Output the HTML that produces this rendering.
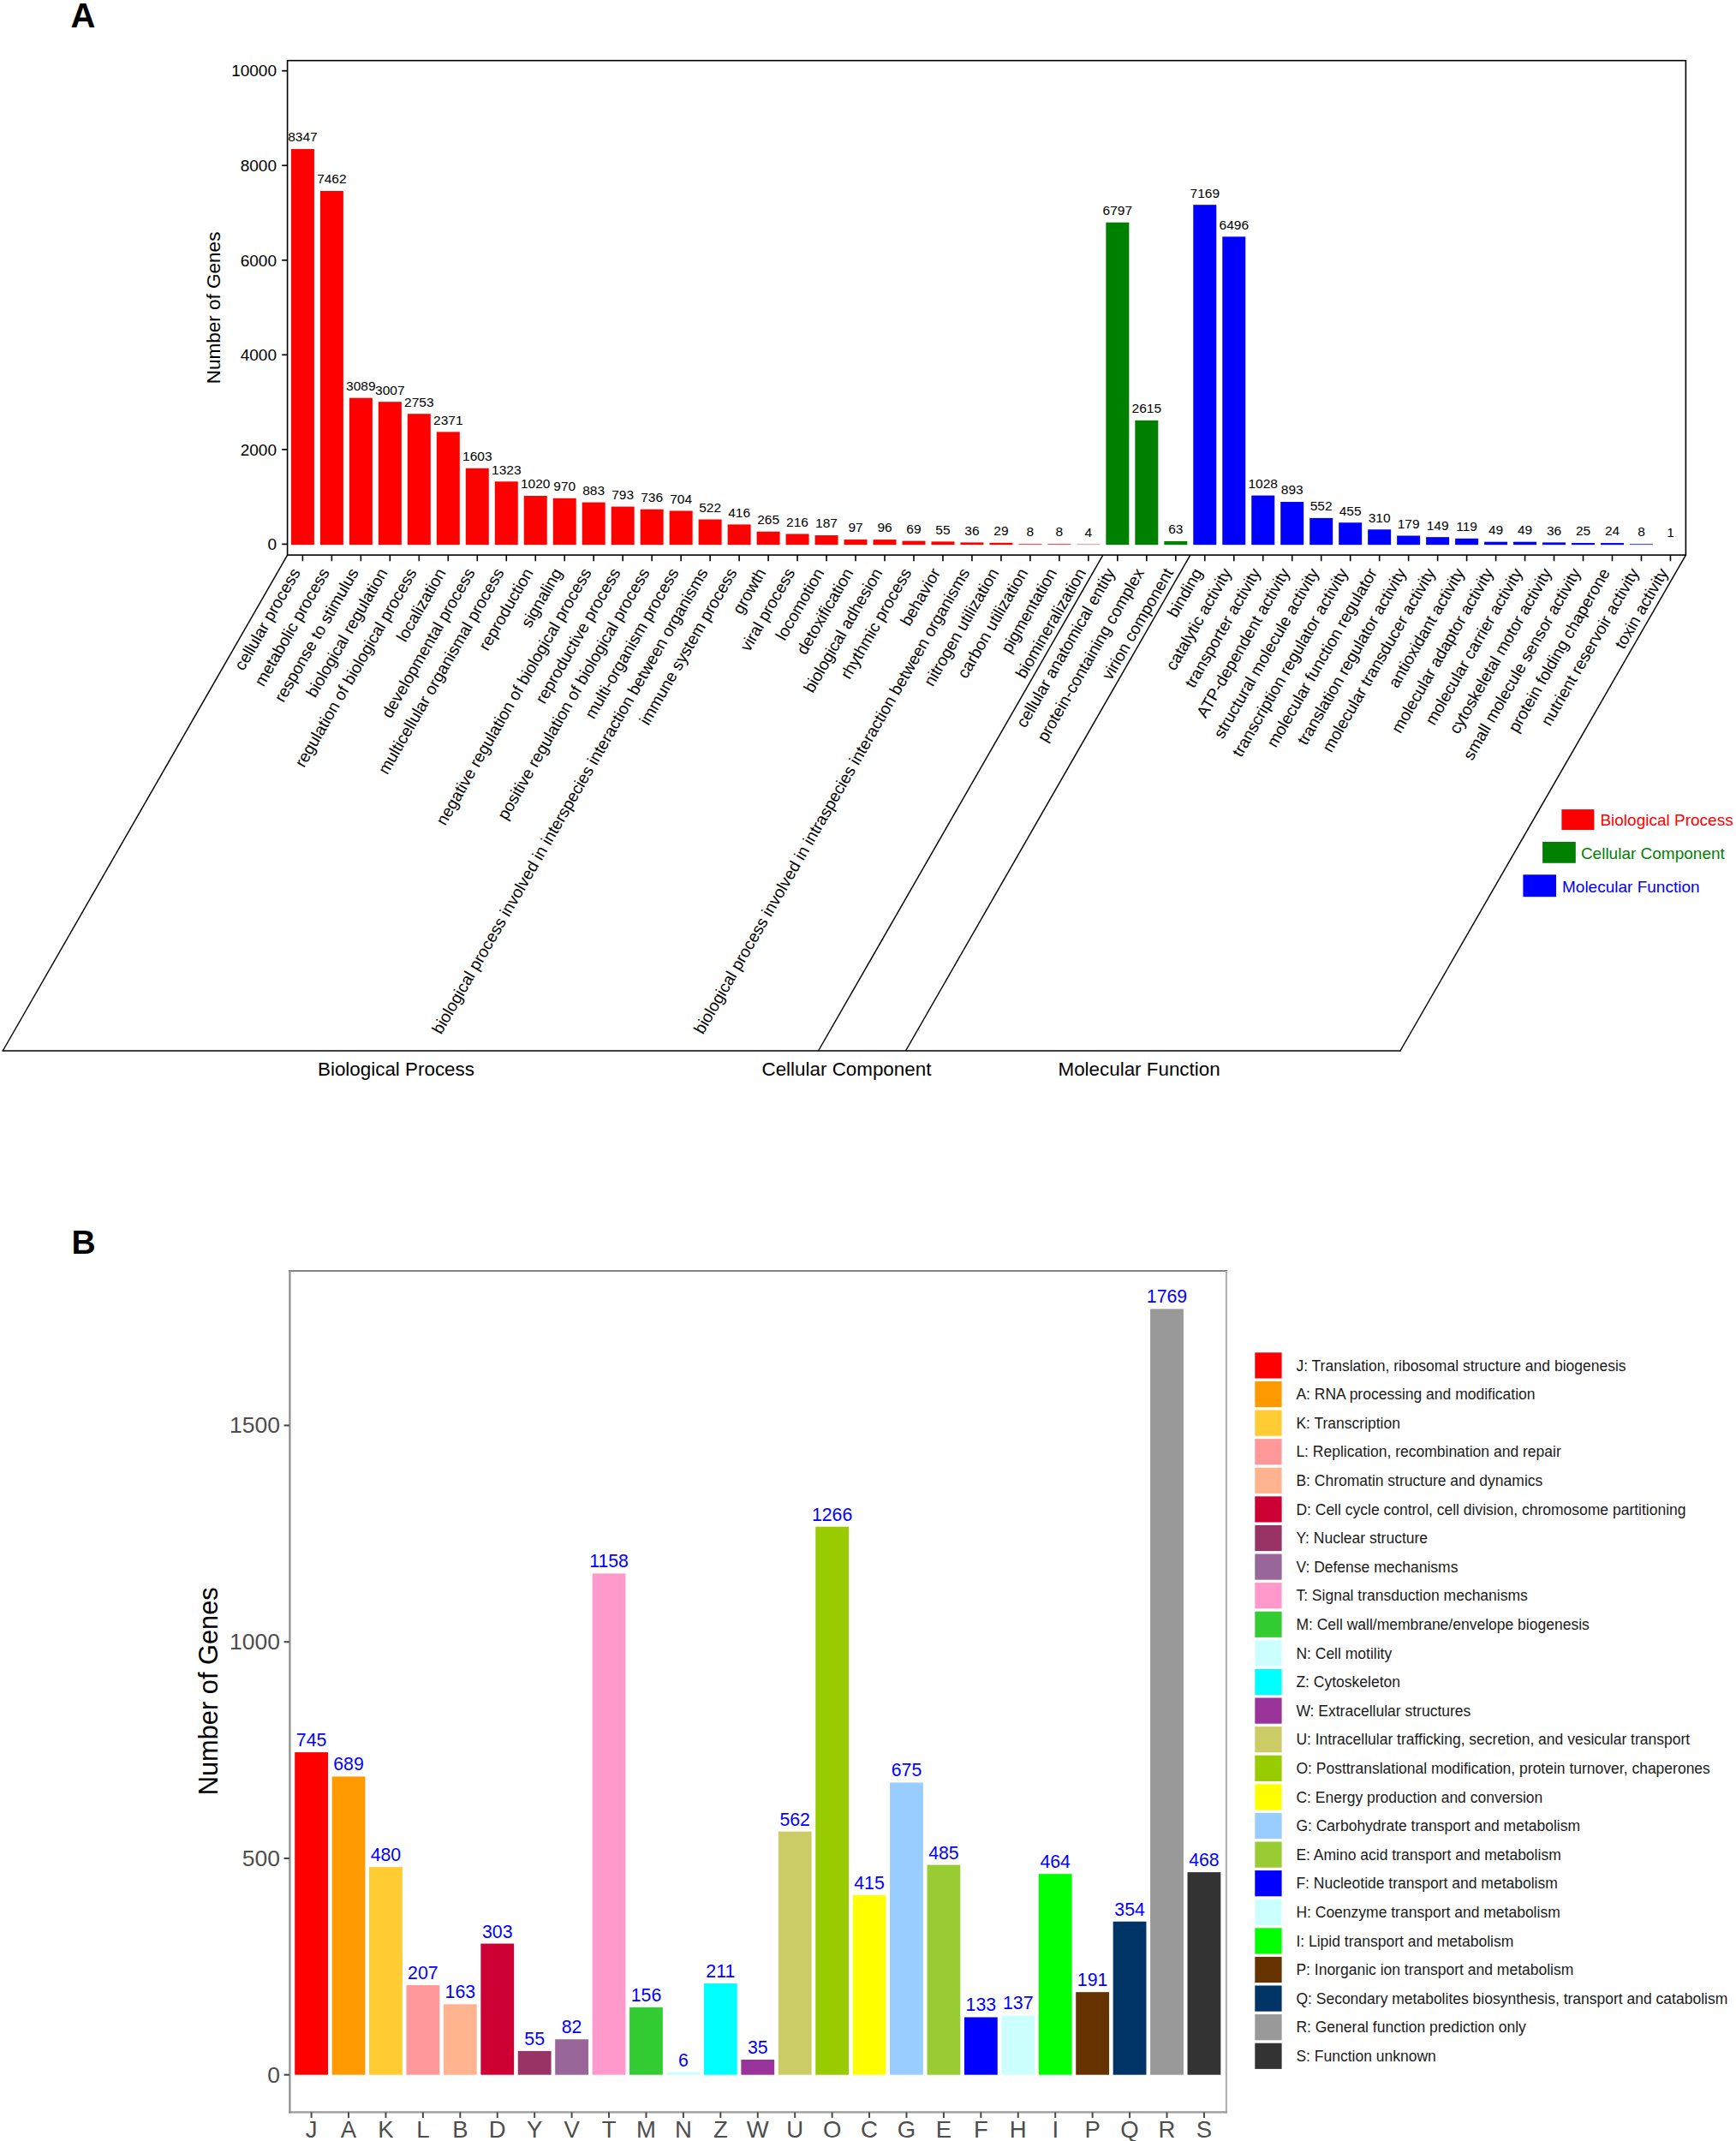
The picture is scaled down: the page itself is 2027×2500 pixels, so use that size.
<!DOCTYPE html>
<html lang="en">
<head>
<meta charset="utf-8">
<title>GO and COG functional classification</title>
<style>
html,body{margin:0;padding:0;background:#fff;}
body{width:2027px;height:2500px;overflow:hidden;}
svg{display:block;font-family:'Liberation Sans', Arial, Helvetica, sans-serif;}
</style>
</head>
<body>
<svg width="2027" height="2500" viewBox="0 0 2027 2500">
<rect x="0" y="0" width="2027" height="2500" fill="#ffffff"/>
<g id="panelA">
<g id="a-bars">
<rect x="339.90" y="174.06" width="27.00" height="462.14" fill="#ff0000"/>
<rect x="373.88" y="222.98" width="27.00" height="413.22" fill="#ff0000"/>
<rect x="407.86" y="464.67" width="27.00" height="171.53" fill="#ff0000"/>
<rect x="441.84" y="469.20" width="27.00" height="167.00" fill="#ff0000"/>
<rect x="475.82" y="483.24" width="27.00" height="152.96" fill="#ff0000"/>
<rect x="509.80" y="504.35" width="27.00" height="131.85" fill="#ff0000"/>
<rect x="543.78" y="546.80" width="27.00" height="89.40" fill="#ff0000"/>
<rect x="577.76" y="562.28" width="27.00" height="73.92" fill="#ff0000"/>
<rect x="611.74" y="579.02" width="27.00" height="57.18" fill="#ff0000"/>
<rect x="645.72" y="581.79" width="27.00" height="54.41" fill="#ff0000"/>
<rect x="679.70" y="586.60" width="27.00" height="49.60" fill="#ff0000"/>
<rect x="713.68" y="591.57" width="27.00" height="44.63" fill="#ff0000"/>
<rect x="747.66" y="594.72" width="27.00" height="41.48" fill="#ff0000"/>
<rect x="781.64" y="596.49" width="27.00" height="39.71" fill="#ff0000"/>
<rect x="815.62" y="606.55" width="27.00" height="29.65" fill="#ff0000"/>
<rect x="849.60" y="612.41" width="27.00" height="23.79" fill="#ff0000"/>
<rect x="883.58" y="620.75" width="27.00" height="15.45" fill="#ff0000"/>
<rect x="917.56" y="623.46" width="27.00" height="12.74" fill="#ff0000"/>
<rect x="951.54" y="625.06" width="27.00" height="11.14" fill="#ff0000"/>
<rect x="985.52" y="630.04" width="27.00" height="6.16" fill="#ff0000"/>
<rect x="1019.50" y="630.09" width="27.00" height="6.11" fill="#ff0000"/>
<rect x="1053.48" y="631.59" width="27.00" height="4.61" fill="#ff0000"/>
<rect x="1087.46" y="632.36" width="27.00" height="3.84" fill="#ff0000"/>
<rect x="1121.44" y="633.41" width="27.00" height="2.79" fill="#ff0000"/>
<rect x="1155.42" y="633.80" width="27.00" height="2.40" fill="#ff0000"/>
<rect x="1189.40" y="634.96" width="27.00" height="1.24" fill="#ff0000" fill-opacity="0.69"/>
<rect x="1223.38" y="634.96" width="27.00" height="1.24" fill="#ff0000" fill-opacity="0.69"/>
<rect x="1257.36" y="635.18" width="27.00" height="1.02" fill="#ff0000" fill-opacity="0.45"/>
<rect x="1291.34" y="259.73" width="27.00" height="376.47" fill="#008000"/>
<rect x="1325.32" y="490.87" width="27.00" height="145.33" fill="#008000"/>
<rect x="1359.30" y="631.92" width="27.00" height="4.28" fill="#008000"/>
<rect x="1393.28" y="239.17" width="27.00" height="397.03" fill="#0000ff"/>
<rect x="1427.26" y="276.37" width="27.00" height="359.83" fill="#0000ff"/>
<rect x="1461.24" y="578.58" width="27.00" height="57.62" fill="#0000ff"/>
<rect x="1495.22" y="586.04" width="27.00" height="50.16" fill="#0000ff"/>
<rect x="1529.20" y="604.89" width="27.00" height="31.31" fill="#0000ff"/>
<rect x="1563.18" y="610.25" width="27.00" height="25.95" fill="#0000ff"/>
<rect x="1597.16" y="618.27" width="27.00" height="17.93" fill="#0000ff"/>
<rect x="1631.14" y="625.51" width="27.00" height="10.69" fill="#0000ff"/>
<rect x="1665.12" y="627.16" width="27.00" height="9.04" fill="#0000ff"/>
<rect x="1699.10" y="628.82" width="27.00" height="7.38" fill="#0000ff"/>
<rect x="1733.08" y="632.69" width="27.00" height="3.51" fill="#0000ff"/>
<rect x="1767.06" y="632.69" width="27.00" height="3.51" fill="#0000ff"/>
<rect x="1801.04" y="633.41" width="27.00" height="2.79" fill="#0000ff"/>
<rect x="1835.02" y="634.02" width="27.00" height="2.18" fill="#0000ff"/>
<rect x="1869.00" y="634.07" width="27.00" height="2.13" fill="#0000ff"/>
<rect x="1902.98" y="634.96" width="27.00" height="1.24" fill="#0000ff" fill-opacity="0.69"/>
</g>
<rect x="335.60" y="70.70" width="1632.80" height="577.40" fill="none" stroke="#000" stroke-width="1.6"/>
<g id="a-yaxis" font-size="19.00" text-anchor="end" fill="#000">
<line x1="329.20" y1="635.40" x2="335.60" y2="635.40" stroke="#000" stroke-width="1.7"/>
<text x="323.00" y="642.14">0</text>
<line x1="329.20" y1="524.86" x2="335.60" y2="524.86" stroke="#000" stroke-width="1.7"/>
<text x="323.00" y="531.61">2000</text>
<line x1="329.20" y1="414.32" x2="335.60" y2="414.32" stroke="#000" stroke-width="1.7"/>
<text x="323.00" y="421.06">4000</text>
<line x1="329.20" y1="303.78" x2="335.60" y2="303.78" stroke="#000" stroke-width="1.7"/>
<text x="323.00" y="310.53">6000</text>
<line x1="329.20" y1="193.24" x2="335.60" y2="193.24" stroke="#000" stroke-width="1.7"/>
<text x="323.00" y="199.99">8000</text>
<line x1="329.20" y1="82.70" x2="335.60" y2="82.70" stroke="#000" stroke-width="1.7"/>
<text x="323.00" y="89.45">10000</text>
</g>
<text transform="translate(257.00,359.40) rotate(-90)" text-anchor="middle" font-size="22.50">Number of Genes</text>
<g id="a-xticks" stroke="#000" stroke-width="1.6">
<line x1="353.40" y1="648.10" x2="353.40" y2="655.30"/>
<line x1="387.38" y1="648.10" x2="387.38" y2="655.30"/>
<line x1="421.36" y1="648.10" x2="421.36" y2="655.30"/>
<line x1="455.34" y1="648.10" x2="455.34" y2="655.30"/>
<line x1="489.32" y1="648.10" x2="489.32" y2="655.30"/>
<line x1="523.30" y1="648.10" x2="523.30" y2="655.30"/>
<line x1="557.28" y1="648.10" x2="557.28" y2="655.30"/>
<line x1="591.26" y1="648.10" x2="591.26" y2="655.30"/>
<line x1="625.24" y1="648.10" x2="625.24" y2="655.30"/>
<line x1="659.22" y1="648.10" x2="659.22" y2="655.30"/>
<line x1="693.20" y1="648.10" x2="693.20" y2="655.30"/>
<line x1="727.18" y1="648.10" x2="727.18" y2="655.30"/>
<line x1="761.16" y1="648.10" x2="761.16" y2="655.30"/>
<line x1="795.14" y1="648.10" x2="795.14" y2="655.30"/>
<line x1="829.12" y1="648.10" x2="829.12" y2="655.30"/>
<line x1="863.10" y1="648.10" x2="863.10" y2="655.30"/>
<line x1="897.08" y1="648.10" x2="897.08" y2="655.30"/>
<line x1="931.06" y1="648.10" x2="931.06" y2="655.30"/>
<line x1="965.04" y1="648.10" x2="965.04" y2="655.30"/>
<line x1="999.02" y1="648.10" x2="999.02" y2="655.30"/>
<line x1="1033.00" y1="648.10" x2="1033.00" y2="655.30"/>
<line x1="1066.98" y1="648.10" x2="1066.98" y2="655.30"/>
<line x1="1100.96" y1="648.10" x2="1100.96" y2="655.30"/>
<line x1="1134.94" y1="648.10" x2="1134.94" y2="655.30"/>
<line x1="1168.92" y1="648.10" x2="1168.92" y2="655.30"/>
<line x1="1202.90" y1="648.10" x2="1202.90" y2="655.30"/>
<line x1="1236.88" y1="648.10" x2="1236.88" y2="655.30"/>
<line x1="1270.86" y1="648.10" x2="1270.86" y2="655.30"/>
<line x1="1304.84" y1="648.10" x2="1304.84" y2="655.30"/>
<line x1="1338.82" y1="648.10" x2="1338.82" y2="655.30"/>
<line x1="1372.80" y1="648.10" x2="1372.80" y2="655.30"/>
<line x1="1406.78" y1="648.10" x2="1406.78" y2="655.30"/>
<line x1="1440.76" y1="648.10" x2="1440.76" y2="655.30"/>
<line x1="1474.74" y1="648.10" x2="1474.74" y2="655.30"/>
<line x1="1508.72" y1="648.10" x2="1508.72" y2="655.30"/>
<line x1="1542.70" y1="648.10" x2="1542.70" y2="655.30"/>
<line x1="1576.68" y1="648.10" x2="1576.68" y2="655.30"/>
<line x1="1610.66" y1="648.10" x2="1610.66" y2="655.30"/>
<line x1="1644.64" y1="648.10" x2="1644.64" y2="655.30"/>
<line x1="1678.62" y1="648.10" x2="1678.62" y2="655.30"/>
<line x1="1712.60" y1="648.10" x2="1712.60" y2="655.30"/>
<line x1="1746.58" y1="648.10" x2="1746.58" y2="655.30"/>
<line x1="1780.56" y1="648.10" x2="1780.56" y2="655.30"/>
<line x1="1814.54" y1="648.10" x2="1814.54" y2="655.30"/>
<line x1="1848.52" y1="648.10" x2="1848.52" y2="655.30"/>
<line x1="1882.50" y1="648.10" x2="1882.50" y2="655.30"/>
<line x1="1916.48" y1="648.10" x2="1916.48" y2="655.30"/>
<line x1="1950.46" y1="648.10" x2="1950.46" y2="655.30"/>
</g>
<g id="a-vals" font-size="15.50" text-anchor="middle" fill="#000">
<text x="353.40" y="165.46">8347</text>
<text x="387.38" y="214.38">7462</text>
<text x="421.36" y="456.07">3089</text>
<text x="455.34" y="460.60">3007</text>
<text x="489.32" y="474.64">2753</text>
<text x="523.30" y="495.75">2371</text>
<text x="557.28" y="538.20">1603</text>
<text x="591.26" y="553.68">1323</text>
<text x="625.24" y="570.42">1020</text>
<text x="659.22" y="573.19">970</text>
<text x="693.20" y="578.00">883</text>
<text x="727.18" y="582.97">793</text>
<text x="761.16" y="586.12">736</text>
<text x="795.14" y="587.89">704</text>
<text x="829.12" y="597.95">522</text>
<text x="863.10" y="603.81">416</text>
<text x="897.08" y="612.15">265</text>
<text x="931.06" y="614.86">216</text>
<text x="965.04" y="616.46">187</text>
<text x="999.02" y="621.44">97</text>
<text x="1033.00" y="621.49">96</text>
<text x="1066.98" y="622.99">69</text>
<text x="1100.96" y="623.76">55</text>
<text x="1134.94" y="624.81">36</text>
<text x="1168.92" y="625.20">29</text>
<text x="1202.90" y="626.36">8</text>
<text x="1236.88" y="626.36">8</text>
<text x="1270.86" y="626.58">4</text>
<text x="1304.84" y="251.13">6797</text>
<text x="1338.82" y="482.27">2615</text>
<text x="1372.80" y="623.32">63</text>
<text x="1406.78" y="230.57">7169</text>
<text x="1440.76" y="267.77">6496</text>
<text x="1474.74" y="569.98">1028</text>
<text x="1508.72" y="577.44">893</text>
<text x="1542.70" y="596.29">552</text>
<text x="1576.68" y="601.65">455</text>
<text x="1610.66" y="609.67">310</text>
<text x="1644.64" y="616.91">179</text>
<text x="1678.62" y="618.56">149</text>
<text x="1712.60" y="620.22">119</text>
<text x="1746.58" y="624.09">49</text>
<text x="1780.56" y="624.09">49</text>
<text x="1814.54" y="624.81">36</text>
<text x="1848.52" y="625.42">25</text>
<text x="1882.50" y="625.47">24</text>
<text x="1916.48" y="626.36">8</text>
<text x="1950.46" y="626.74">1</text>
</g>
<g id="a-labels" font-size="19.25" text-anchor="end" fill="#000">
<text transform="translate(345.40,665.00) rotate(-60)" dy="0.35em">cellular process</text>
<text transform="translate(379.38,665.00) rotate(-60)" dy="0.35em">metabolic process</text>
<text transform="translate(413.36,665.00) rotate(-60)" dy="0.35em">response to stimulus</text>
<text transform="translate(447.34,665.00) rotate(-60)" dy="0.35em">biological regulation</text>
<text transform="translate(481.32,665.00) rotate(-60)" dy="0.35em">regulation of biological process</text>
<text transform="translate(515.30,665.00) rotate(-60)" dy="0.35em">localization</text>
<text transform="translate(549.28,665.00) rotate(-60)" dy="0.35em">developmental process</text>
<text transform="translate(583.26,665.00) rotate(-60)" dy="0.35em">multicellular organismal process</text>
<text transform="translate(617.24,665.00) rotate(-60)" dy="0.35em">reproduction</text>
<text transform="translate(651.22,665.00) rotate(-60)" dy="0.35em">signaling</text>
<text transform="translate(685.20,665.00) rotate(-60)" dy="0.35em">negative regulation of biological process</text>
<text transform="translate(719.18,665.00) rotate(-60)" dy="0.35em">reproductive process</text>
<text transform="translate(753.16,665.00) rotate(-60)" dy="0.35em">positive regulation of biological process</text>
<text transform="translate(787.14,665.00) rotate(-60)" dy="0.35em">multi-organism process</text>
<text transform="translate(821.12,665.00) rotate(-60)" dy="0.35em">biological process involved in interspecies interaction between organisms</text>
<text transform="translate(855.10,665.00) rotate(-60)" dy="0.35em">immune system process</text>
<text transform="translate(889.08,665.00) rotate(-60)" dy="0.35em">growth</text>
<text transform="translate(923.06,665.00) rotate(-60)" dy="0.35em">viral process</text>
<text transform="translate(957.04,665.00) rotate(-60)" dy="0.35em">locomotion</text>
<text transform="translate(991.02,665.00) rotate(-60)" dy="0.35em">detoxification</text>
<text transform="translate(1025.00,665.00) rotate(-60)" dy="0.35em">biological adhesion</text>
<text transform="translate(1058.98,665.00) rotate(-60)" dy="0.35em">rhythmic process</text>
<text transform="translate(1092.96,665.00) rotate(-60)" dy="0.35em">behavior</text>
<text transform="translate(1126.94,665.00) rotate(-60)" dy="0.35em">biological process involved in intraspecies interaction between organisms</text>
<text transform="translate(1160.92,665.00) rotate(-60)" dy="0.35em">nitrogen utilization</text>
<text transform="translate(1194.90,665.00) rotate(-60)" dy="0.35em">carbon utilization</text>
<text transform="translate(1228.88,665.00) rotate(-60)" dy="0.35em">pigmentation</text>
<text transform="translate(1262.86,665.00) rotate(-60)" dy="0.35em">biomineralization</text>
<text transform="translate(1296.84,665.00) rotate(-60)" dy="0.35em">cellular anatomical entity</text>
<text transform="translate(1330.82,665.00) rotate(-60)" dy="0.35em">protein-containing complex</text>
<text transform="translate(1364.80,665.00) rotate(-60)" dy="0.35em">virion component</text>
<text transform="translate(1398.78,665.00) rotate(-60)" dy="0.35em">binding</text>
<text transform="translate(1432.76,665.00) rotate(-60)" dy="0.35em">catalytic activity</text>
<text transform="translate(1466.74,665.00) rotate(-60)" dy="0.35em">transporter activity</text>
<text transform="translate(1500.72,665.00) rotate(-60)" dy="0.35em">ATP-dependent activity</text>
<text transform="translate(1534.70,665.00) rotate(-60)" dy="0.35em">structural molecule activity</text>
<text transform="translate(1568.68,665.00) rotate(-60)" dy="0.35em">transcription regulator activity</text>
<text transform="translate(1602.66,665.00) rotate(-60)" dy="0.35em">molecular function regulator</text>
<text transform="translate(1636.64,665.00) rotate(-60)" dy="0.35em">translation regulator activity</text>
<text transform="translate(1670.62,665.00) rotate(-60)" dy="0.35em">molecular transducer activity</text>
<text transform="translate(1704.60,665.00) rotate(-60)" dy="0.35em">antioxidant activity</text>
<text transform="translate(1738.58,665.00) rotate(-60)" dy="0.35em">molecular adaptor activity</text>
<text transform="translate(1772.56,665.00) rotate(-60)" dy="0.35em">molecular carrier activity</text>
<text transform="translate(1806.54,665.00) rotate(-60)" dy="0.35em">cytoskeletal motor activity</text>
<text transform="translate(1840.52,665.00) rotate(-60)" dy="0.35em">small molecule sensor activity</text>
<text transform="translate(1874.50,665.00) rotate(-60)" dy="0.35em">protein folding chaperone</text>
<text transform="translate(1908.48,665.00) rotate(-60)" dy="0.35em">nutrient reservoir activity</text>
<text transform="translate(1942.46,665.00) rotate(-60)" dy="0.35em">toxin activity</text>
</g>
<g id="a-trap" stroke="#000" stroke-width="1.45" fill="none">
<line x1="335.60" y1="648.10" x2="3.30" y2="1227.00"/>
<line x1="2.50" y1="1227.00" x2="1635.80" y2="1227.00"/>
<line x1="1968.40" y1="648.10" x2="1635.00" y2="1227.00"/>
<line x1="1287.85" y1="648.10" x2="955.55" y2="1227.00"/>
<line x1="1389.79" y1="648.10" x2="1057.49" y2="1227.00"/>
</g>
<g id="a-cats" font-size="22.40" fill="#000">
<text x="371" y="1256.2">Biological Process</text>
<text x="889.5" y="1256.2">Cellular Component</text>
<text x="1235.5" y="1256.2">Molecular Function</text>
</g>
<g id="a-legend" font-size="19">
<rect x="1823.4" y="945.1" width="38" height="23.9" fill="#ff0000"/><text x="1868.4" y="964.2" fill="#ff0000">Biological Process</text>
<rect x="1801.1" y="983.0" width="38.7" height="24.8" fill="#008000"/><text x="1845.9" y="1003.3" fill="#008000">Cellular Component</text>
<rect x="1778.4" y="1021.3" width="38.6" height="25.9" fill="#0000ff"/><text x="1824.0" y="1042.1" fill="#0000ff">Molecular Function</text>
</g>
<text x="82.4" y="31.9" font-size="40" font-weight="bold">A</text>
</g>
<g id="panelB">
<g id="b-bars">
<rect x="344.20" y="2046.10" width="38.80" height="376.60" fill="#ff0000"/>
<rect x="387.63" y="2074.41" width="38.80" height="348.29" fill="#ff9900"/>
<rect x="431.06" y="2180.06" width="38.80" height="242.64" fill="#ffcc33"/>
<rect x="474.49" y="2318.06" width="38.80" height="104.64" fill="#ff9999"/>
<rect x="517.92" y="2340.30" width="38.80" height="82.40" fill="#ffb38f"/>
<rect x="561.35" y="2269.53" width="38.80" height="153.17" fill="#cc0033"/>
<rect x="604.78" y="2394.90" width="38.80" height="27.80" fill="#993366"/>
<rect x="648.21" y="2381.25" width="38.80" height="41.45" fill="#996699"/>
<rect x="691.64" y="1837.33" width="38.80" height="585.37" fill="#ff99cc"/>
<rect x="735.07" y="2343.84" width="38.80" height="78.86" fill="#33cc33"/>
<rect x="778.50" y="2419.67" width="38.80" height="3.03" fill="#ccffff"/>
<rect x="821.93" y="2316.04" width="38.80" height="106.66" fill="#00ffff"/>
<rect x="865.36" y="2405.01" width="38.80" height="17.69" fill="#993399"/>
<rect x="908.79" y="2138.61" width="38.80" height="284.09" fill="#cccc66"/>
<rect x="952.22" y="1782.74" width="38.80" height="639.96" fill="#99cc00"/>
<rect x="995.65" y="2212.92" width="38.80" height="209.78" fill="#ffff00"/>
<rect x="1039.08" y="2081.49" width="38.80" height="341.21" fill="#99ccff"/>
<rect x="1082.51" y="2177.53" width="38.80" height="245.17" fill="#99cc33"/>
<rect x="1125.94" y="2355.47" width="38.80" height="67.23" fill="#0000ff"/>
<rect x="1169.37" y="2353.45" width="38.80" height="69.25" fill="#ccffff"/>
<rect x="1212.80" y="2188.15" width="38.80" height="234.55" fill="#00ff00"/>
<rect x="1256.23" y="2326.15" width="38.80" height="96.55" fill="#663300"/>
<rect x="1299.66" y="2243.75" width="38.80" height="178.95" fill="#003366"/>
<rect x="1343.09" y="1528.47" width="38.80" height="894.23" fill="#999999"/>
<rect x="1386.52" y="2186.13" width="38.80" height="236.57" fill="#333333"/>
</g>
<g id="b-frame" fill="none" stroke-width="2.2" stroke-linecap="square">
<line x1="338.40" y1="1484.00" x2="1431.90" y2="1484.00" stroke="#838383"/>
<line x1="1431.90" y1="1485.20" x2="1431.90" y2="2466.40" stroke="#b2b2b2"/>
<line x1="338.40" y1="2466.40" x2="1431.90" y2="2466.40" stroke="#9a9a9a"/>
<line x1="338.40" y1="1484.00" x2="338.40" y2="2466.40" stroke="#8c8c8c"/>
</g>
<g id="b-yaxis" font-size="26.50" text-anchor="end" fill="#4d4d4d">
<line x1="331.60" y1="2422.70" x2="337.90" y2="2422.70" stroke="#484848" stroke-width="2.1"/>
<text x="326.90" y="2431.71">0</text>
<line x1="331.60" y1="2169.95" x2="337.90" y2="2169.95" stroke="#484848" stroke-width="2.1"/>
<text x="326.90" y="2178.96">500</text>
<line x1="331.60" y1="1917.20" x2="337.90" y2="1917.20" stroke="#484848" stroke-width="2.1"/>
<text x="326.90" y="1926.21">1000</text>
<line x1="331.60" y1="1664.45" x2="337.90" y2="1664.45" stroke="#484848" stroke-width="2.1"/>
<text x="326.90" y="1673.46">1500</text>
</g>
<text transform="translate(254.40,1974.80) rotate(-90)" text-anchor="middle" font-size="30.80">Number of Genes</text>
<g id="b-xaxis" font-size="27.50" text-anchor="middle" fill="#4d4d4d">
<line x1="363.60" y1="2466.40" x2="363.60" y2="2473.00" stroke="#4a4a4a" stroke-width="2"/>
<text x="363.60" y="2496.30">J</text>
<line x1="407.03" y1="2466.40" x2="407.03" y2="2473.00" stroke="#4a4a4a" stroke-width="2"/>
<text x="407.03" y="2496.30">A</text>
<line x1="450.46" y1="2466.40" x2="450.46" y2="2473.00" stroke="#4a4a4a" stroke-width="2"/>
<text x="450.46" y="2496.30">K</text>
<line x1="493.89" y1="2466.40" x2="493.89" y2="2473.00" stroke="#4a4a4a" stroke-width="2"/>
<text x="493.89" y="2496.30">L</text>
<line x1="537.32" y1="2466.40" x2="537.32" y2="2473.00" stroke="#4a4a4a" stroke-width="2"/>
<text x="537.32" y="2496.30">B</text>
<line x1="580.75" y1="2466.40" x2="580.75" y2="2473.00" stroke="#4a4a4a" stroke-width="2"/>
<text x="580.75" y="2496.30">D</text>
<line x1="624.18" y1="2466.40" x2="624.18" y2="2473.00" stroke="#4a4a4a" stroke-width="2"/>
<text x="624.18" y="2496.30">Y</text>
<line x1="667.61" y1="2466.40" x2="667.61" y2="2473.00" stroke="#4a4a4a" stroke-width="2"/>
<text x="667.61" y="2496.30">V</text>
<line x1="711.04" y1="2466.40" x2="711.04" y2="2473.00" stroke="#4a4a4a" stroke-width="2"/>
<text x="711.04" y="2496.30">T</text>
<line x1="754.47" y1="2466.40" x2="754.47" y2="2473.00" stroke="#4a4a4a" stroke-width="2"/>
<text x="754.47" y="2496.30">M</text>
<line x1="797.90" y1="2466.40" x2="797.90" y2="2473.00" stroke="#4a4a4a" stroke-width="2"/>
<text x="797.90" y="2496.30">N</text>
<line x1="841.33" y1="2466.40" x2="841.33" y2="2473.00" stroke="#4a4a4a" stroke-width="2"/>
<text x="841.33" y="2496.30">Z</text>
<line x1="884.76" y1="2466.40" x2="884.76" y2="2473.00" stroke="#4a4a4a" stroke-width="2"/>
<text x="884.76" y="2496.30">W</text>
<line x1="928.19" y1="2466.40" x2="928.19" y2="2473.00" stroke="#4a4a4a" stroke-width="2"/>
<text x="928.19" y="2496.30">U</text>
<line x1="971.62" y1="2466.40" x2="971.62" y2="2473.00" stroke="#4a4a4a" stroke-width="2"/>
<text x="971.62" y="2496.30">O</text>
<line x1="1015.05" y1="2466.40" x2="1015.05" y2="2473.00" stroke="#4a4a4a" stroke-width="2"/>
<text x="1015.05" y="2496.30">C</text>
<line x1="1058.48" y1="2466.40" x2="1058.48" y2="2473.00" stroke="#4a4a4a" stroke-width="2"/>
<text x="1058.48" y="2496.30">G</text>
<line x1="1101.91" y1="2466.40" x2="1101.91" y2="2473.00" stroke="#4a4a4a" stroke-width="2"/>
<text x="1101.91" y="2496.30">E</text>
<line x1="1145.34" y1="2466.40" x2="1145.34" y2="2473.00" stroke="#4a4a4a" stroke-width="2"/>
<text x="1145.34" y="2496.30">F</text>
<line x1="1188.77" y1="2466.40" x2="1188.77" y2="2473.00" stroke="#4a4a4a" stroke-width="2"/>
<text x="1188.77" y="2496.30">H</text>
<line x1="1232.20" y1="2466.40" x2="1232.20" y2="2473.00" stroke="#4a4a4a" stroke-width="2"/>
<text x="1232.20" y="2496.30">I</text>
<line x1="1275.63" y1="2466.40" x2="1275.63" y2="2473.00" stroke="#4a4a4a" stroke-width="2"/>
<text x="1275.63" y="2496.30">P</text>
<line x1="1319.06" y1="2466.40" x2="1319.06" y2="2473.00" stroke="#4a4a4a" stroke-width="2"/>
<text x="1319.06" y="2496.30">Q</text>
<line x1="1362.49" y1="2466.40" x2="1362.49" y2="2473.00" stroke="#4a4a4a" stroke-width="2"/>
<text x="1362.49" y="2496.30">R</text>
<line x1="1405.92" y1="2466.40" x2="1405.92" y2="2473.00" stroke="#4a4a4a" stroke-width="2"/>
<text x="1405.92" y="2496.30">S</text>
</g>
<g id="b-vals" font-size="21.30" text-anchor="middle" fill="#0000ff">
<text x="363.60" y="2039.10">745</text>
<text x="407.03" y="2067.41">689</text>
<text x="450.46" y="2173.06">480</text>
<text x="493.89" y="2311.06">207</text>
<text x="537.32" y="2333.30">163</text>
<text x="580.75" y="2262.53">303</text>
<text x="624.18" y="2387.90">55</text>
<text x="667.61" y="2374.25">82</text>
<text x="711.04" y="1830.33">1158</text>
<text x="754.47" y="2336.84">156</text>
<text x="797.90" y="2412.67">6</text>
<text x="841.33" y="2309.04">211</text>
<text x="884.76" y="2398.01">35</text>
<text x="928.19" y="2131.61">562</text>
<text x="971.62" y="1775.74">1266</text>
<text x="1015.05" y="2205.92">415</text>
<text x="1058.48" y="2074.49">675</text>
<text x="1101.91" y="2170.53">485</text>
<text x="1145.34" y="2348.47">133</text>
<text x="1188.77" y="2346.45">137</text>
<text x="1232.20" y="2181.15">464</text>
<text x="1275.63" y="2319.15">191</text>
<text x="1319.06" y="2236.75">354</text>
<text x="1362.49" y="1521.47">1769</text>
<text x="1405.92" y="2179.13">468</text>
</g>
<g id="b-legend" font-size="17.50" fill="#1a1a1a">
<rect x="1465.3" y="1579.30" width="31.3" height="30.2" fill="#ff0000"/>
<text x="1513.4" y="1600.60">J: Translation, ribosomal structure and biogenesis</text>
<rect x="1465.3" y="1612.90" width="31.3" height="30.2" fill="#ff9900"/>
<text x="1513.4" y="1634.20">A: RNA processing and modification</text>
<rect x="1465.3" y="1646.50" width="31.3" height="30.2" fill="#ffcc33"/>
<text x="1513.4" y="1667.80">K: Transcription</text>
<rect x="1465.3" y="1680.10" width="31.3" height="30.2" fill="#ff9999"/>
<text x="1513.4" y="1701.40">L: Replication, recombination and repair</text>
<rect x="1465.3" y="1713.70" width="31.3" height="30.2" fill="#ffb38f"/>
<text x="1513.4" y="1735.00">B: Chromatin structure and dynamics</text>
<rect x="1465.3" y="1747.30" width="31.3" height="30.2" fill="#cc0033"/>
<text x="1513.4" y="1768.60">D: Cell cycle control, cell division, chromosome partitioning</text>
<rect x="1465.3" y="1780.90" width="31.3" height="30.2" fill="#993366"/>
<text x="1513.4" y="1802.20">Y: Nuclear structure</text>
<rect x="1465.3" y="1814.50" width="31.3" height="30.2" fill="#996699"/>
<text x="1513.4" y="1835.80">V: Defense mechanisms</text>
<rect x="1465.3" y="1848.10" width="31.3" height="30.2" fill="#ff99cc"/>
<text x="1513.4" y="1869.40">T: Signal transduction mechanisms</text>
<rect x="1465.3" y="1881.70" width="31.3" height="30.2" fill="#33cc33"/>
<text x="1513.4" y="1903.00">M: Cell wall/membrane/envelope biogenesis</text>
<rect x="1465.3" y="1915.30" width="31.3" height="30.2" fill="#ccffff"/>
<text x="1513.4" y="1936.60">N: Cell motility</text>
<rect x="1465.3" y="1948.90" width="31.3" height="30.2" fill="#00ffff"/>
<text x="1513.4" y="1970.20">Z: Cytoskeleton</text>
<rect x="1465.3" y="1982.50" width="31.3" height="30.2" fill="#993399"/>
<text x="1513.4" y="2003.80">W: Extracellular structures</text>
<rect x="1465.3" y="2016.10" width="31.3" height="30.2" fill="#cccc66"/>
<text x="1513.4" y="2037.40">U: Intracellular trafficking, secretion, and vesicular transport</text>
<rect x="1465.3" y="2049.70" width="31.3" height="30.2" fill="#99cc00"/>
<text x="1513.4" y="2071.00">O: Posttranslational modification, protein turnover, chaperones</text>
<rect x="1465.3" y="2083.30" width="31.3" height="30.2" fill="#ffff00"/>
<text x="1513.4" y="2104.60">C: Energy production and conversion</text>
<rect x="1465.3" y="2116.90" width="31.3" height="30.2" fill="#99ccff"/>
<text x="1513.4" y="2138.20">G: Carbohydrate transport and metabolism</text>
<rect x="1465.3" y="2150.50" width="31.3" height="30.2" fill="#99cc33"/>
<text x="1513.4" y="2171.80">E: Amino acid transport and metabolism</text>
<rect x="1465.3" y="2184.10" width="31.3" height="30.2" fill="#0000ff"/>
<text x="1513.4" y="2205.40">F: Nucleotide transport and metabolism</text>
<rect x="1465.3" y="2217.70" width="31.3" height="30.2" fill="#ccffff"/>
<text x="1513.4" y="2239.00">H: Coenzyme transport and metabolism</text>
<rect x="1465.3" y="2251.30" width="31.3" height="30.2" fill="#00ff00"/>
<text x="1513.4" y="2272.60">I: Lipid transport and metabolism</text>
<rect x="1465.3" y="2284.90" width="31.3" height="30.2" fill="#663300"/>
<text x="1513.4" y="2306.20">P: Inorganic ion transport and metabolism</text>
<rect x="1465.3" y="2318.50" width="31.3" height="30.2" fill="#003366"/>
<text x="1513.4" y="2339.80">Q: Secondary metabolites biosynthesis, transport and catabolism</text>
<rect x="1465.3" y="2352.10" width="31.3" height="30.2" fill="#999999"/>
<text x="1513.4" y="2373.40">R: General function prediction only</text>
<rect x="1465.3" y="2385.70" width="31.3" height="30.2" fill="#333333"/>
<text x="1513.4" y="2407.00">S: Function unknown</text>
</g>
<text x="83.5" y="1463.8" font-size="39" font-weight="bold">B</text>
</g>
</svg>
</body>
</html>
